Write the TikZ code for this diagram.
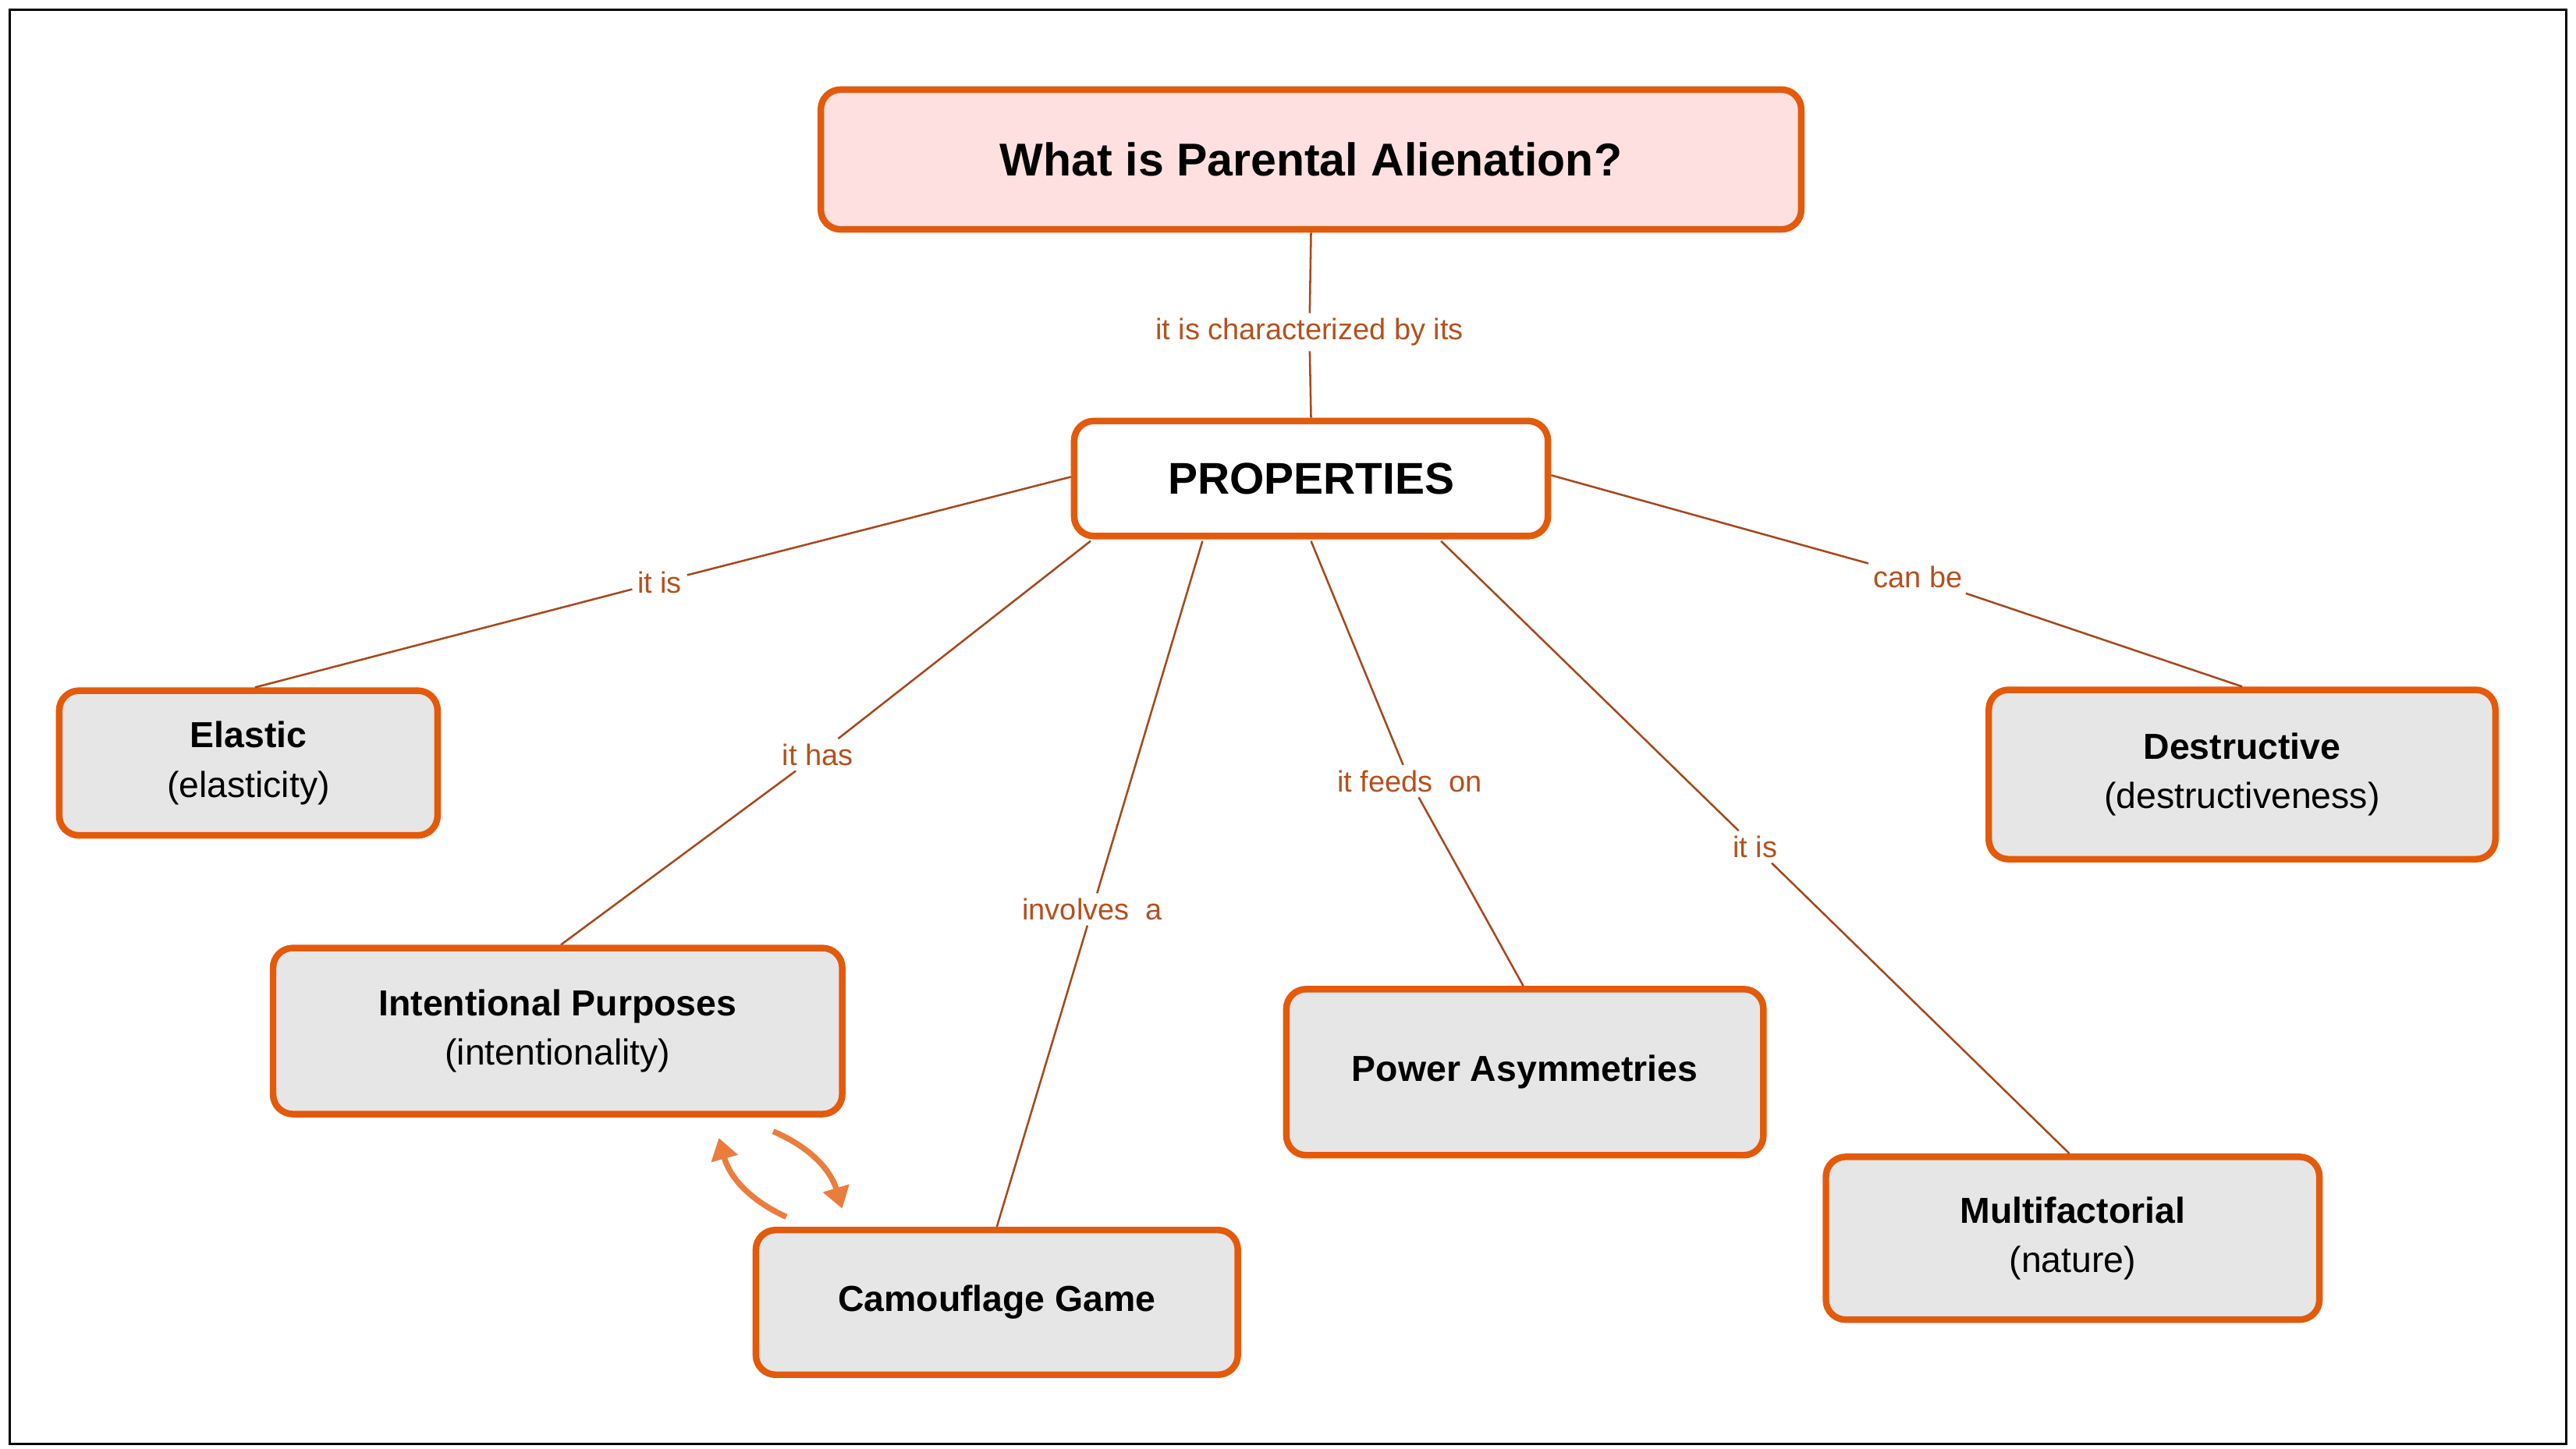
\documentclass[tikz,border=0pt]{standalone}
\usepackage{fontspec}
\setmainfont{Liberation Sans}
\usetikzlibrary{arrows.meta}
\definecolor{bord}{HTML}{E35A0B}
\definecolor{lnk}{HTML}{A5481E}
\definecolor{labc}{HTML}{B5501C}
\definecolor{boxf}{HTML}{E6E6E6}
\definecolor{pinkf}{HTML}{FFE0E0}
\definecolor{arr}{HTML}{EA7D3E}
\begin{document}
\begin{tikzpicture}[x=1pt,y=-1pt,
  box/.style={draw=bord,line width=4pt,rounded corners=12pt,fill=boxf,align=center,font=\fontsize{22}{30}\selectfont,inner sep=0pt},
  lab/.style={fill=white,text=labc,font=\fontsize{18}{20}\selectfont,inner sep=3pt},
  lk/.style={draw=lnk,line width=1.2pt}]
\useasboundingbox (0,0) rectangle (1566,881);
\draw[line width=1.5pt] (6,6) rectangle (1560,878);
\node[box,fill=pinkf,minimum width=596,minimum height=85,font=\fontsize{28}{30}\selectfont\bfseries] (T) at (797,97) {What is Parental Alienation?};
\node[box,fill=white,minimum width=288,minimum height=70,font=\fontsize{27}{30}\selectfont\bfseries] (P) at (797,291) {PROPERTIES};
\node[box,minimum width=230,minimum height=88] (E) at (151,464) {\textbf{Elastic}\\(elasticity)};
\node[box,minimum width=346,minimum height=101] (I) at (339,627) {\textbf{Intentional Purposes}\\(intentionality)};
\node[box,minimum width=293,minimum height=88] (C) at (606,792) {\textbf{Camouflage Game}};
\node[box,minimum width=290,minimum height=101] (W) at (927,652) {\textbf{Power Asymmetries}};
\node[box,minimum width=300,minimum height=99] (M) at (1260,753) {\textbf{Multifactorial}\\(nature)};
\node[box,minimum width=308,minimum height=103] (D) at (1363,471) {\textbf{Destructive}\\(destructiveness)};
\node[lab] (l0) at (796,202) {it is characterized by its};
\node[lab] (l1) at (401,354) {it is};
\node[lab] (l2) at (497,459) {it has};
\node[lab] (l3) at (664,553) {involves\ \ a};
\node[lab] (l4) at (857,475) {it feeds\ \ on};
\node[lab] (l5) at (1067,515) {it is};
\node[lab] (l6) at (1166,351) {can be};
\draw[lk] (T.south) -- (l0) -- (P.north);
\draw[lk] ([yshift=1]P.west) -- (l1) -- ([xshift=4]E.north);
\draw[lk] ([xshift=12,yshift=-1]P.south west) -- (l2) -- ([xshift=2]I.north);
\draw[lk] ([xshift=-66,yshift=-1]P.south) -- (l3) -- (C.north);
\draw[lk] ([yshift=-1]P.south) -- (l4) -- ([xshift=-1]W.north);
\draw[lk] ([xshift=79,yshift=-1]P.south) -- (l5) -- ([xshift=-2]M.north);
\draw[lk] ([yshift=2]P.east) -- (l6) -- (D.north);
\coordinate (a1) at (478,740); \coordinate (a2) at (437,692);
\coordinate (b1) at (470,688); \coordinate (b2) at (512,735);
\draw[arr,line width=3.5pt,-{Triangle[width=16pt,length=13pt]}] (a1) to[bend left=25] (a2);
\draw[arr,line width=3.5pt,-{Triangle[width=16pt,length=13pt]}] (b1) to[bend left=25] (b2);
\end{tikzpicture}
\end{document}
